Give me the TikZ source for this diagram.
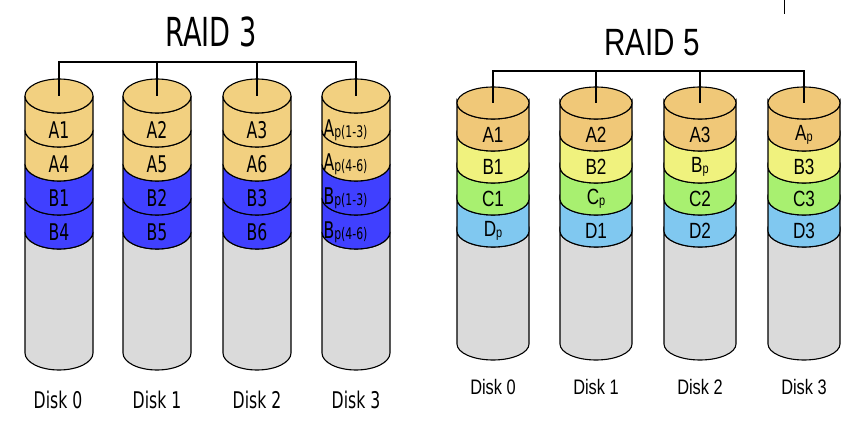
\documentclass[tikz,border=0pt]{standalone}
\usepackage{fontspec}
\newfontfamily\rthree[FakeStretch=0.68]{DejaVu Sans}
\newfontfamily\rfive[FakeStretch=0.78]{Liberation Sans}
\definecolor{rtan}{RGB}{242,208,128}
\definecolor{rblue}{RGB}{64,64,255}
\definecolor{diskgray}{RGB}{218,218,218}
\definecolor{forange}{RGB}{240,200,120}
\definecolor{fyellow}{RGB}{240,242,126}
\definecolor{fgreen}{RGB}{168,240,112}
\definecolor{fblue}{RGB}{128,200,240}
\def\crx{34}\def\cry{17}\def\bh{34}\def\ybot{353}
\newcommand\cylband[4]{\filldraw[fill=#4] ({#1-\crx},{-(#2)}) -- ({#1-\crx},{-(#3)}) arc[start angle=180,end angle=360,x radius=\crx pt,y radius=\cry pt] -- ({#1+\crx},{-(#2)}) arc[start angle=360,end angle=180,x radius=\crx pt,y radius=\cry pt] -- cycle;}
\newcommand\cyltop[3]{\filldraw[fill=#3] (#1,{-(#2)}) ellipse[x radius=\crx pt,y radius=\cry pt];}
\newcommand\diskfour[7]{%
 \cylband{#2}{#3+4*\bh}{\ybot}{diskgray}
 \cylband{#2}{#3+3*\bh}{#3+4*\bh}{#7}
 \cylband{#2}{#3+2*\bh}{#3+3*\bh}{#6}
 \cylband{#2}{#3+\bh}{#3+2*\bh}{#5}
 \cylband{#2}{#3}{#3+\bh}{#4}
 \cyltop{#2}{#3}{#4}
 \coordinate (#1) at (#2,{-(#3)});}
\newcommand\subthree[1]{\raisebox{-1pt}{\fontsize{16}{16}\selectfont #1}}
\newcommand\subfive[1]{\raisebox{-0.5pt}{\fontsize{14}{14}\selectfont #1}}
\begin{document}
\begin{tikzpicture}[x=1pt,y=1pt,line width=1.1pt,
  title3/.style={font=\rthree\fontsize{40}{44}\selectfont},
  title5/.style={font=\rfive\fontsize{38}{42}\selectfont},
  lab3/.style={font=\rthree\fontsize{23}{25}\selectfont,inner sep=0pt},
  lab3w/.style={lab3,anchor=west},
  lab5/.style={font=\rfive\fontsize{22}{24}\selectfont,inner sep=0pt},
  dlab3/.style={font=\rthree\fontsize{23}{25}\selectfont,inner sep=0pt},
  dlab5/.style={font=\rfive\fontsize{21}{23}\selectfont,inner sep=0pt},
  bus/.style={line width=1.2pt}]
\fill[white] (0,0) rectangle (860,-425);
\useasboundingbox (0,0) rectangle (860,-425);
% ---------- RAID 3 ----------
\def\crx{34}\def\cry{17}\def\bh{34}\def\ybot{353}
\diskfour{r3d0}{59}{96}{rtan}{rtan}{rblue}{rblue}
\diskfour{r3d1}{157}{96}{rtan}{rtan}{rblue}{rblue}
\diskfour{r3d2}{257}{96}{rtan}{rtan}{rblue}{rblue}
\diskfour{r3d3}{356}{96}{rtan}{rtan}{rblue}{rblue}
\node[title3] (t3) at (211,-32) {RAID 3};
\coordinate (bus3) at (0,-62);
\draw[bus] (r3d0) -- (r3d0 |- bus3) -- (r3d3 |- bus3) -- (r3d3);
\draw[bus] (r3d1) -- (r3d1 |- bus3);
\draw[bus] (r3d2) -- (r3d2 |- bus3);
\node[lab3] (r3a1) at (59,-130) {A1};
\node[lab3] (r3a4) at (59,-164) {A4};
\node[lab3] (r3b1) at (59,-198) {B1};
\node[lab3] (r3b4) at (59,-232) {B4};
\node[lab3] (r3a2) at (157,-130) {A2};
\node[lab3] (r3a5) at (157,-164) {A5};
\node[lab3] (r3b2) at (157,-198) {B2};
\node[lab3] (r3b5) at (157,-232) {B5};
\node[lab3] (r3a3) at (257,-130) {A3};
\node[lab3] (r3a6) at (257,-164) {A6};
\node[lab3] (r3b3) at (257,-198) {B3};
\node[lab3] (r3b6) at (257,-232) {B6};
\node[lab3w] (r3pa1) at (323,-130) {A\subthree{p(1-3)}};
\node[lab3w] (r3pa2) at (323,-164) {A\subthree{p(4-6)}};
\node[lab3w] (r3pb1) at (323,-198) {B\subthree{p(1-3)}};
\node[lab3w] (r3pb2) at (323,-232) {B\subthree{p(4-6)}};
\node[dlab3] (r3n0) at (58,-400) {Disk 0};
\node[dlab3] (r3n1) at (157,-400) {Disk 1};
\node[dlab3] (r3n2) at (257,-400) {Disk 2};
\node[dlab3] (r3n3) at (356,-400) {Disk 3};
% ---------- RAID 5 ----------
\def\crx{36}\def\cry{16}\def\bh{32}\def\ybot{344}
\diskfour{r5d0}{493}{103}{forange}{fyellow}{fgreen}{fblue}
\diskfour{r5d1}{596}{103}{forange}{fyellow}{fgreen}{fblue}
\diskfour{r5d2}{700}{103}{forange}{fyellow}{fgreen}{fblue}
\diskfour{r5d3}{804}{103}{forange}{fyellow}{fgreen}{fblue}
\node[title5] (t5) at (652,-43) {RAID 5};
\coordinate (bus5) at (0,-71);
\draw[bus] (r5d0) -- (r5d0 |- bus5) -- (r5d3 |- bus5) -- (r5d3);
\draw[bus] (r5d1) -- (r5d1 |- bus5);
\draw[bus] (r5d2) -- (r5d2 |- bus5);
\node[lab5] (r5a1) at (493,-135) {A1};
\node[lab5] (r5b1) at (493,-167) {B1};
\node[lab5] (r5c1) at (493,-199) {C1};
\node[lab5] (r5dp) at (493,-231) {D\subfive{p}};
\node[lab5] (r5a2) at (596,-135) {A2};
\node[lab5] (r5b2) at (596,-167) {B2};
\node[lab5] (r5cp) at (596,-199) {C\subfive{p}};
\node[lab5] (r5d1l) at (596,-231) {D1};
\node[lab5] (r5a3) at (700,-135) {A3};
\node[lab5] (r5bp) at (700,-167) {B\subfive{p}};
\node[lab5] (r5c2) at (700,-199) {C2};
\node[lab5] (r5d2l) at (700,-231) {D2};
\node[lab5] (r5ap) at (804,-135) {A\subfive{p}};
\node[lab5] (r5b3) at (804,-167) {B3};
\node[lab5] (r5c3) at (804,-199) {C3};
\node[lab5] (r5d3l) at (804,-231) {D3};
\node[dlab5] (r5n0) at (493,-387) {Disk 0};
\node[dlab5] (r5n1) at (596,-387) {Disk 1};
\node[dlab5] (r5n2) at (700,-387) {Disk 2};
\node[dlab5] (r5n3) at (804,-387) {Disk 3};
% stray tick at top right
\coordinate (tk1) at (784,0);
\coordinate (tk2) at (784,-14);
\draw[line width=1pt] (tk1) -- (tk2);
\end{tikzpicture}
\end{document}
